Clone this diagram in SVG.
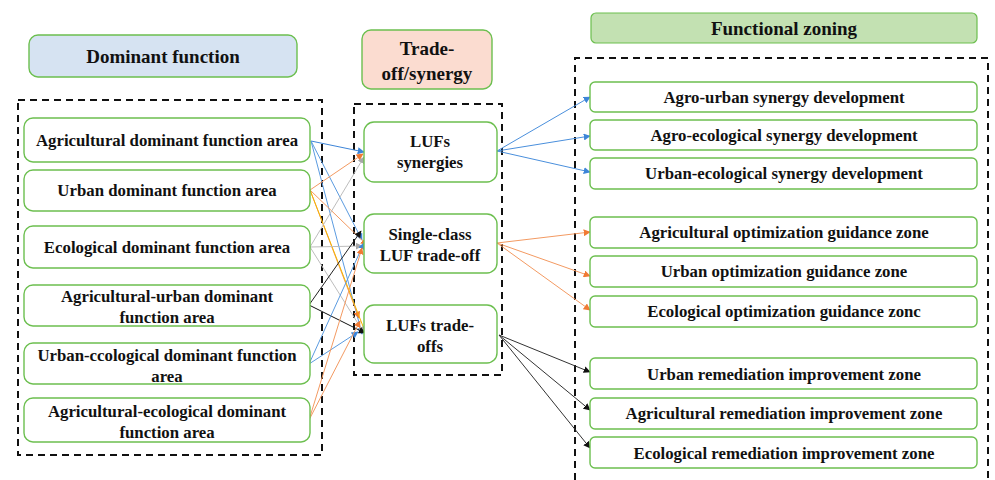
<svg xmlns="http://www.w3.org/2000/svg" width="995" height="480" viewBox="0 0 995 480">
<defs>
<style>
.n{fill:#fff;stroke:#6cbf4f;stroke-width:1.4}
.t{font-family:"Liberation Serif","Times New Roman",serif;font-weight:bold;font-size:16.8px;fill:#111;text-anchor:middle}
.h{font-family:"Liberation Serif","Times New Roman",serif;font-weight:bold;font-size:19px;fill:#111;text-anchor:middle}
.d{fill:none;stroke:#111;stroke-width:2;stroke-dasharray:7,5}
.c{fill:none;stroke-width:1}
</style>
<marker id="ab" viewBox="0 0 10 10" refX="9" refY="5" markerWidth="7" markerHeight="7" orient="auto" markerUnits="userSpaceOnUse"><path d="M0,0L10,5L0,10z" fill="#3d85d8"/></marker>
<marker id="ao" viewBox="0 0 10 10" refX="9" refY="5" markerWidth="7" markerHeight="7" orient="auto" markerUnits="userSpaceOnUse"><path d="M0,0L10,5L0,10z" fill="#f07a34"/></marker>
<marker id="ak" viewBox="0 0 10 10" refX="9" refY="5" markerWidth="7" markerHeight="7" orient="auto" markerUnits="userSpaceOnUse"><path d="M0,0L10,5L0,10z" fill="#111"/></marker>
<marker id="ag" viewBox="0 0 10 10" refX="9" refY="5" markerWidth="7" markerHeight="7" orient="auto" markerUnits="userSpaceOnUse"><path d="M0,0L10,5L0,10z" fill="#a8a8a8"/></marker>
<marker id="ay" viewBox="0 0 10 10" refX="9" refY="5" markerWidth="7" markerHeight="7" orient="auto" markerUnits="userSpaceOnUse"><path d="M0,0L10,5L0,10z" fill="#f5b400"/></marker>
</defs>
<rect width="995" height="480" fill="#fff"/>

<!-- dashed containers -->
<rect class="d" x="18" y="100" width="304" height="355"/>
<rect class="d" x="354" y="104" width="148" height="271"/>
<path class="d" d="M575,480V58H988V480"/>

<!-- headers -->
<g id="h-dominant"><rect x="29" y="35" width="268" height="42" rx="9" fill="#d6e3f2" stroke="#6cbf4f" stroke-width="1.4"/><text class="h" x="163" y="63">Dominant function</text></g>
<g id="h-trade"><rect x="362" y="30" width="130" height="59" rx="9" fill="#fbdcd0" stroke="#6cbf4f" stroke-width="1.4"/><text class="h" x="427" y="55">Trade-</text><text class="h" x="427" y="80">off/synergy</text></g>
<g id="h-zoning"><rect x="591" y="13" width="386" height="30" rx="5" fill="#c3e1b2" stroke="#6cbf4f" stroke-width="1.2"/><text class="h" x="784" y="35">Functional zoning</text></g>

<!-- connectors -->
<g id="connectors">
<!-- left to middle -->
<line class="c" x1="311" y1="141" x2="364" y2="152" stroke="#3d85d8" marker-end="url(#ab)"/>
<line class="c" x1="311" y1="141" x2="362" y2="240" stroke="#5b9be0" marker-end="url(#ab)"/>
<line class="c" x1="311" y1="141" x2="362" y2="334" stroke="#5b9be0" marker-end="url(#ab)"/>
<line class="c" x1="310" y1="190" x2="363" y2="154" stroke="#f39a62" marker-end="url(#ao)"/>
<line class="c" x1="310" y1="190" x2="367" y2="245" stroke="#f39a62" marker-end="url(#ao)"/>
<line class="c" x1="310" y1="190" x2="359" y2="318" stroke="#f39a62" marker-end="url(#ao)"/>
<line class="c" x1="310" y1="190" x2="366" y2="334" stroke="#f5b400" stroke-width="1.3" marker-end="url(#ay)"/>
<line class="c" x1="310" y1="247" x2="364" y2="157" stroke="#bdbdbd" marker-end="url(#ag)"/>
<line class="c" x1="310" y1="247" x2="362" y2="246" stroke="#bdbdbd" marker-end="url(#ag)"/>
<line class="c" x1="310" y1="247" x2="364" y2="333" stroke="#bdbdbd" marker-end="url(#ag)"/>
<line class="c" x1="309" y1="305" x2="361" y2="231" stroke="#222" marker-end="url(#ak)"/>
<line class="c" x1="309" y1="305" x2="365" y2="333" stroke="#111" stroke-width="1.6" marker-end="url(#ak)"/>
<line class="c" x1="309" y1="364" x2="364" y2="243" stroke="#5b9be0" marker-end="url(#ab)"/>
<line class="c" x1="309" y1="364" x2="358" y2="332" stroke="#5b9be0" marker-end="url(#ab)"/>
<line class="c" x1="309" y1="420" x2="362" y2="248" stroke="#f39a62" marker-end="url(#ao)"/>
<line class="c" x1="309" y1="420" x2="360" y2="321" stroke="#f39a62" marker-end="url(#ao)"/>
<!-- middle to right -->
<line class="c" x1="497" y1="151" x2="590" y2="97" stroke="#4a8fdc" marker-end="url(#ab)"/>
<line class="c" x1="497" y1="151" x2="590" y2="136" stroke="#4a8fdc" marker-end="url(#ab)"/>
<line class="c" x1="497" y1="151" x2="590" y2="172" stroke="#4a8fdc" marker-end="url(#ab)"/>
<line class="c" x1="497" y1="243" x2="590" y2="232" stroke="#f39a62" marker-end="url(#ao)"/>
<line class="c" x1="497" y1="243" x2="590" y2="276" stroke="#f39a62" marker-end="url(#ao)"/>
<line class="c" x1="497" y1="243" x2="590" y2="310" stroke="#f39a62" marker-end="url(#ao)"/>
<line class="c" x1="499" y1="335" x2="590" y2="372" stroke="#333" marker-end="url(#ak)"/>
<line class="c" x1="499" y1="335" x2="590" y2="410" stroke="#333" marker-end="url(#ak)"/>
<line class="c" x1="499" y1="335" x2="590" y2="448" stroke="#333" marker-end="url(#ak)"/>
</g>

<!-- left nodes -->
<g id="n-agri"><rect class="n" x="24" y="118" width="286" height="44" rx="9"/><text class="t" x="167" y="146">Agricultural dominant function area</text></g>
<g id="n-urban"><rect class="n" x="24" y="170" width="286" height="41" rx="9"/><text class="t" x="167" y="196">Urban dominant function area</text></g>
<g id="n-eco"><rect class="n" x="24" y="226" width="286" height="42" rx="9"/><text class="t" x="167" y="253">Ecological dominant function area</text></g>
<g id="n-agri-urban"><rect class="n" x="24" y="285" width="286" height="41" rx="9"/><text class="t" x="167" y="302">Agricultural-urban dominant</text><text class="t" x="167" y="323">function area</text></g>
<g id="n-urban-eco"><rect class="n" x="24" y="343" width="286" height="41" rx="9"/><text class="t" x="167" y="361">Urban-ccological dominant function</text><text class="t" x="167" y="382">area</text></g>
<g id="n-agri-eco"><rect class="n" x="24" y="398" width="286" height="44" rx="9"/><text class="t" x="167" y="417">Agricultural-ecological dominant</text><text class="t" x="167" y="438">function area</text></g>

<!-- middle nodes -->
<g id="m-syn"><rect class="n" x="364" y="122" width="133" height="60" rx="10"/><text class="t" x="430" y="147">LUFs</text><text class="t" x="430" y="168">synergies</text></g>
<g id="m-single"><rect class="n" x="364" y="214" width="133" height="59" rx="10"/><text class="t" x="430" y="240">Single-class</text><text class="t" x="430" y="261">LUF trade-off</text></g>
<g id="m-trade"><rect class="n" x="364" y="305" width="133" height="58" rx="10"/><text class="t" x="430" y="331">LUFs trade-</text><text class="t" x="430" y="352">offs</text></g>

<!-- right nodes -->
<g id="r1"><rect class="n" x="590" y="82" width="387" height="30" rx="5"/><text class="t" x="784" y="103">Agro-urban synergy development</text></g>
<g id="r2"><rect class="n" x="590" y="120" width="387" height="30" rx="5"/><text class="t" x="784" y="141">Agro-ecological synergy development</text></g>
<g id="r3"><rect class="n" x="590" y="158" width="387" height="31" rx="5"/><text class="t" x="784" y="179">Urban-ecological synergy development</text></g>
<g id="r4"><rect class="n" x="590" y="217" width="387" height="31" rx="5"/><text class="t" x="784" y="238">Agricultural optimization guidance zone</text></g>
<g id="r5"><rect class="n" x="590" y="256" width="387" height="31" rx="5"/><text class="t" x="784" y="277">Urban optimization guidance zone</text></g>
<g id="r6"><rect class="n" x="590" y="296" width="387" height="31" rx="5"/><text class="t" x="784" y="317">Ecological optimization guidance zonc</text></g>
<g id="r7"><rect class="n" x="590" y="358" width="387" height="31" rx="5"/><text class="t" x="784" y="380">Urban remediation improvement zone</text></g>
<g id="r8"><rect class="n" x="590" y="398" width="387" height="31" rx="5"/><text class="t" x="784" y="419">Agricultural remediation improvement zone</text></g>
<g id="r9"><rect class="n" x="590" y="437" width="387" height="31" rx="5"/><text class="t" x="784" y="459">Ecological remediation improvement zone</text></g>
</svg>
